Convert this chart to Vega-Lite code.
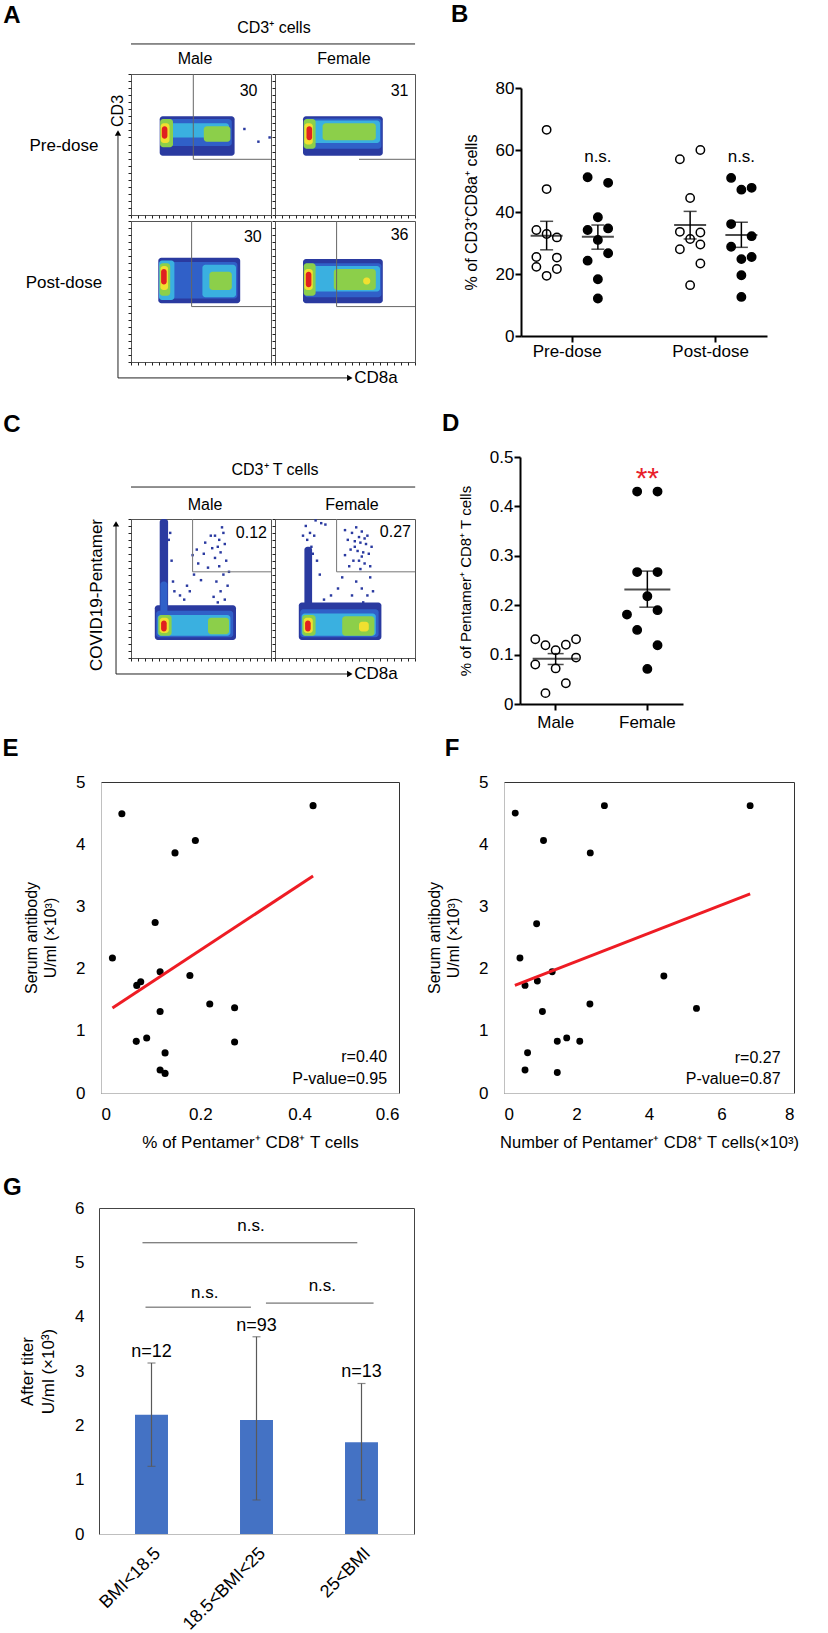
{
"$schema": "https://vega.github.io/schema/vega-lite/v6.json",
"background": "white",
"padding": {"left": 1, "top": 2, "right": 0, "bottom": 0},
"config": {
  "view": {"stroke": "#555"},
  "font": "Liberation Sans",
  "text": {"font": "Liberation Sans", "color": "black"},
  "axis": {"labelFont": "Liberation Sans", "titleFont": "Liberation Sans", "labelColor": "black", "titleColor": "black", "titleFontWeight": "normal", "grid": false},
  "title": {"font": "Liberation Sans", "fontSize": 24, "fontWeight": "bold", "anchor": "start", "frame": "group", "color": "black"}
},
"datasets": {
  "sp": [{"t": ""}],
  "fa": [
    {"k":"c","dose":"Pre-dose","sex":"Male","x1":20.5,"x2":74,"y1":42,"y2":70,"lv":1},
    {"k":"c","dose":"Pre-dose","sex":"Male","x1":21,"x2":72,"y1":49,"y2":68,"lv":2},
    {"k":"c","dose":"Pre-dose","sex":"Male","x1":22,"x2":70,"y1":55,"y2":65,"lv":3},
    {"k":"c","dose":"Pre-dose","sex":"Male","x1":52,"x2":71,"y1":52,"y2":63,"lv":4},
    {"k":"c","dose":"Pre-dose","sex":"Male","x1":20.8,"x2":30,"y1":48,"y2":68,"lv":4},
    {"k":"c","dose":"Pre-dose","sex":"Male","x1":21.2,"x2":27.5,"y1":51,"y2":65,"lv":5},
    {"k":"c","dose":"Pre-dose","sex":"Male","x1":22,"x2":26,"y1":54,"y2":63,"lv":6},
    {"k":"c","dose":"Pre-dose","sex":"Female","x1":20,"x2":77,"y1":42,"y2":70,"lv":1},
    {"k":"c","dose":"Pre-dose","sex":"Female","x1":21,"x2":76,"y1":47,"y2":68.5,"lv":2},
    {"k":"c","dose":"Pre-dose","sex":"Female","x1":22,"x2":75,"y1":51,"y2":67,"lv":3},
    {"k":"c","dose":"Pre-dose","sex":"Female","x1":34,"x2":72,"y1":53,"y2":65,"lv":4},
    {"k":"c","dose":"Pre-dose","sex":"Female","x1":20.5,"x2":29,"y1":47,"y2":68,"lv":4},
    {"k":"c","dose":"Pre-dose","sex":"Female","x1":21,"x2":27,"y1":50,"y2":65,"lv":5},
    {"k":"c","dose":"Pre-dose","sex":"Female","x1":22.5,"x2":26.5,"y1":53,"y2":63,"lv":6},
    {"k":"c","dose":"Post-dose","sex":"Male","x1":19.5,"x2":78,"y1":41.7,"y2":74,"lv":1},
    {"k":"c","dose":"Post-dose","sex":"Male","x1":20,"x2":76,"y1":45,"y2":71,"lv":2},
    {"k":"c","dose":"Post-dose","sex":"Male","x1":20,"x2":31,"y1":44,"y2":72,"lv":3},
    {"k":"c","dose":"Post-dose","sex":"Male","x1":51,"x2":75,"y1":46,"y2":69,"lv":3},
    {"k":"c","dose":"Post-dose","sex":"Male","x1":56,"x2":72,"y1":51,"y2":64,"lv":4},
    {"k":"c","dose":"Post-dose","sex":"Male","x1":20.5,"x2":28,"y1":47,"y2":70,"lv":4},
    {"k":"c","dose":"Post-dose","sex":"Male","x1":21,"x2":26.5,"y1":51,"y2":68,"lv":5},
    {"k":"c","dose":"Post-dose","sex":"Male","x1":21.5,"x2":25.5,"y1":55,"y2":66,"lv":6},
    {"k":"c","dose":"Post-dose","sex":"Female","x1":20,"x2":77,"y1":41.7,"y2":73,"lv":1},
    {"k":"c","dose":"Post-dose","sex":"Female","x1":21,"x2":76,"y1":46,"y2":70,"lv":2},
    {"k":"c","dose":"Post-dose","sex":"Female","x1":22,"x2":75,"y1":50,"y2":68,"lv":3},
    {"k":"c","dose":"Post-dose","sex":"Female","x1":42,"x2":72,"y1":51,"y2":66,"lv":4},
    {"k":"c","dose":"Post-dose","sex":"Female","x1":20.5,"x2":29,"y1":47,"y2":70,"lv":4},
    {"k":"c","dose":"Post-dose","sex":"Female","x1":21,"x2":27,"y1":51,"y2":66,"lv":5},
    {"k":"c","dose":"Post-dose","sex":"Female","x1":63,"x2":68,"y1":55,"y2":60,"lv":5},
    {"k":"c","dose":"Post-dose","sex":"Female","x1":22,"x2":26,"y1":53,"y2":64,"lv":6},
    {"k":"d","dose":"Pre-dose","sex":"Male","x":81,"y":61},
    {"k":"d","dose":"Pre-dose","sex":"Male","x":91,"y":52},
    {"k":"d","dose":"Pre-dose","sex":"Male","x":99,"y":55},
    {"k":"g","dose":"Pre-dose","sex":"Male","x1":44.5,"y1":39.5,"x2":44.5,"y2":100},
    {"k":"g","dose":"Pre-dose","sex":"Male","x1":44.5,"y1":39.5,"x2":100,"y2":39.5},
    {"k":"g","dose":"Pre-dose","sex":"Female","x1":60,"y1":39.5,"x2":100,"y2":39.5},
    {"k":"g","dose":"Post-dose","sex":"Male","x1":43.3,"y1":39.3,"x2":43.3,"y2":100},
    {"k":"g","dose":"Post-dose","sex":"Male","x1":43.3,"y1":39.3,"x2":100,"y2":39.3},
    {"k":"g","dose":"Post-dose","sex":"Female","x1":44,"y1":39.3,"x2":44,"y2":100},
    {"k":"g","dose":"Post-dose","sex":"Female","x1":44,"y1":39.3,"x2":100,"y2":39.3},
    {"k":"n","dose":"Pre-dose","sex":"Male","x":84,"y":88,"t":"30"},
    {"k":"n","dose":"Pre-dose","sex":"Female","x":89,"y":88,"t":"31"},
    {"k":"n","dose":"Post-dose","sex":"Male","x":87,"y":89,"t":"30"},
    {"k":"n","dose":"Post-dose","sex":"Female","x":89,"y":90,"t":"36"},
    {"k":"L","dose":"Pre-dose","sex":"Male","x":-85,"y":141.1,"t":"A"},
    {"k":"t16","dose":"Pre-dose","sex":"Male","x":102.1,"y":132.6,"t":"CD3⁺ cells"},
    {"k":"t16","dose":"Pre-dose","sex":"Male","x":45.7,"y":110.6,"t":"Male"},
    {"k":"t16","dose":"Pre-dose","sex":"Female","x":49.3,"y":110.6,"t":"Female"},
    {"k":"t17","dose":"Pre-dose","sex":"Male","x":-47.9,"y":48.9,"t":"Pre-dose"},
    {"k":"t17","dose":"Post-dose","sex":"Male","x":-47.9,"y":56,"t":"Post-dose"},
    {"k":"v16","dose":"Pre-dose","sex":"Male","x":-9.3,"y":73.8,"t":"CD3"},
    {"k":"r","dose":"Pre-dose","sex":"Male","x1":0,"x2":202.9,"y1":121.3,"y2":121.3},
    {"k":"r","dose":"Post-dose","sex":"Male","x1":-9.3,"x2":-9.3,"y1":-11.3,"y2":160.3},
    {"k":"r","dose":"Post-dose","sex":"Male","x1":-9.3,"x2":154.3,"y1":-11.3,"y2":-11.3},
    {"k":"au","dose":"Post-dose","sex":"Male","x":-9.3,"y":162.4},
    {"k":"ar","dose":"Post-dose","sex":"Male","x":156.3,"y":-11.3},
    {"k":"tl","dose":"Post-dose","sex":"Male","x":159.5,"y":-11.3,"t":"CD8a"}
  ],
  "fc": [
    {"k":"c","sex":"Male","x1":20.5,"x2":26.5,"y1":30,"y2":100,"lv":1},
    {"k":"c","sex":"Male","x1":17,"x2":75,"y1":13,"y2":38,"lv":1},
    {"k":"c","sex":"Male","x1":21,"x2":26,"y1":30,"y2":55,"lv":2},
    {"k":"c","sex":"Male","x1":18,"x2":73,"y1":15,"y2":34,"lv":2},
    {"k":"c","sex":"Male","x1":19,"x2":71,"y1":16,"y2":31,"lv":3},
    {"k":"c","sex":"Male","x1":19.5,"x2":29,"y1":16,"y2":31,"lv":4},
    {"k":"c","sex":"Male","x1":55,"x2":70,"y1":17,"y2":29,"lv":4},
    {"k":"c","sex":"Male","x1":20.5,"x2":27,"y1":18,"y2":29,"lv":5},
    {"k":"c","sex":"Male","x1":21.5,"x2":25.5,"y1":19,"y2":27,"lv":6},
    {"k":"c","sex":"Female","x1":21,"x2":26.5,"y1":30,"y2":80,"lv":1},
    {"k":"c","sex":"Female","x1":17,"x2":76,"y1":13,"y2":40,"lv":1},
    {"k":"c","sex":"Female","x1":18,"x2":74,"y1":15,"y2":35,"lv":2},
    {"k":"c","sex":"Female","x1":19,"x2":72,"y1":16,"y2":32,"lv":3},
    {"k":"c","sex":"Female","x1":19.5,"x2":29,"y1":16,"y2":31,"lv":4},
    {"k":"c","sex":"Female","x1":48,"x2":71,"y1":16,"y2":30,"lv":4},
    {"k":"c","sex":"Female","x1":20.5,"x2":27,"y1":18,"y2":29,"lv":5},
    {"k":"c","sex":"Female","x1":60,"x2":67,"y1":19,"y2":26,"lv":5},
    {"k":"c","sex":"Female","x1":21.5,"x2":25.5,"y1":19,"y2":27,"lv":6},
    {"k":"d","sex":"Male","x":60,"y":88},{"k":"d","sex":"Male","x":63,"y":85},{"k":"d","sex":"Male","x":66,"y":90},
    {"k":"d","sex":"Male","x":62,"y":80},{"k":"d","sex":"Male","x":67,"y":82},{"k":"d","sex":"Male","x":64,"y":76},
    {"k":"d","sex":"Male","x":60,"y":72},{"k":"d","sex":"Male","x":68,"y":70},{"k":"d","sex":"Male","x":63,"y":66},
    {"k":"d","sex":"Male","x":66,"y":60},{"k":"d","sex":"Male","x":61,"y":55},{"k":"d","sex":"Male","x":69,"y":52},
    {"k":"d","sex":"Male","x":64,"y":48},{"k":"d","sex":"Male","x":59,"y":44},{"k":"d","sex":"Male","x":67,"y":42},
    {"k":"d","sex":"Male","x":62,"y":40},{"k":"d","sex":"Male","x":35,"y":45},{"k":"d","sex":"Male","x":40,"y":52},
    {"k":"d","sex":"Male","x":45,"y":60},{"k":"d","sex":"Male","x":48,"y":68},{"k":"d","sex":"Male","x":52,"y":75},
    {"k":"d","sex":"Male","x":42,"y":48},{"k":"d","sex":"Male","x":38,"y":42},{"k":"d","sex":"Male","x":50,"y":56},
    {"k":"d","sex":"Male","x":55,"y":65},{"k":"d","sex":"Male","x":47,"y":78},{"k":"d","sex":"Male","x":53,"y":83},
    {"k":"d","sex":"Male","x":28,"y":90},{"k":"d","sex":"Male","x":29,"y":70},{"k":"d","sex":"Male","x":30,"y":55},
    {"k":"d","sex":"Male","x":31,"y":48},{"k":"d","sex":"Male","x":57,"y":88},{"k":"d","sex":"Male","x":58,"y":79},
    {"k":"d","sex":"Male","x":65,"y":94},{"k":"d","sex":"Male","x":70,"y":62},{"k":"d","sex":"Male","x":44,"y":74},
    {"k":"d","sex":"Male","x":23,"y":99},{"k":"d","sex":"Male","x":25,"y":96},{"k":"d","sex":"Male","x":27,"y":85},
    {"k":"d","sex":"Male","x":22,"y":78},
    {"k":"d","sex":"Female","x":50,"y":92},{"k":"d","sex":"Female","x":55,"y":90},{"k":"d","sex":"Female","x":58,"y":94},
    {"k":"d","sex":"Female","x":62,"y":91},{"k":"d","sex":"Female","x":66,"y":88},{"k":"d","sex":"Female","x":52,"y":85},
    {"k":"d","sex":"Female","x":57,"y":84},{"k":"d","sex":"Female","x":61,"y":83},{"k":"d","sex":"Female","x":65,"y":82},
    {"k":"d","sex":"Female","x":54,"y":78},{"k":"d","sex":"Female","x":59,"y":77},{"k":"d","sex":"Female","x":63,"y":76},
    {"k":"d","sex":"Female","x":67,"y":75},{"k":"d","sex":"Female","x":56,"y":70},{"k":"d","sex":"Female","x":60,"y":70},
    {"k":"d","sex":"Female","x":64,"y":68},{"k":"d","sex":"Female","x":50,"y":74},{"k":"d","sex":"Female","x":69,"y":80},
    {"k":"d","sex":"Female","x":53,"y":66},{"k":"d","sex":"Female","x":61,"y":64},{"k":"d","sex":"Female","x":58,"y":55},
    {"k":"d","sex":"Female","x":62,"y":50},{"k":"d","sex":"Female","x":66,"y":45},{"k":"d","sex":"Female","x":55,"y":45},
    {"k":"d","sex":"Female","x":63,"y":40},{"k":"d","sex":"Female","x":68,"y":58},{"k":"d","sex":"Female","x":45,"y":50},
    {"k":"d","sex":"Female","x":40,"y":45},{"k":"d","sex":"Female","x":35,"y":42},{"k":"d","sex":"Female","x":48,"y":58},
    {"k":"d","sex":"Female","x":70,"y":48},{"k":"d","sex":"Female","x":22,"y":95},{"k":"d","sex":"Female","x":25,"y":90},
    {"k":"d","sex":"Female","x":23,"y":85},{"k":"d","sex":"Female","x":26,"y":80},{"k":"d","sex":"Female","x":30,"y":70},
    {"k":"d","sex":"Female","x":32,"y":60},{"k":"d","sex":"Female","x":28,"y":88},{"k":"d","sex":"Female","x":36,"y":96},
    {"k":"d","sex":"Female","x":29,"y":99},{"k":"d","sex":"Female","x":33,"y":97},{"k":"d","sex":"Female","x":60,"y":87},
    {"k":"d","sex":"Female","x":64,"y":86},{"k":"d","sex":"Female","x":57,"y":80},{"k":"d","sex":"Female","x":62,"y":73},
    {"k":"d","sex":"Female","x":68,"y":66},{"k":"d","sex":"Female","x":20,"y":88},{"k":"d","sex":"Female","x":27,"y":75},
    {"k":"g","sex":"Male","x1":44,"y1":62,"x2":44,"y2":100},
    {"k":"g","sex":"Male","x1":44,"y1":62,"x2":100,"y2":62},
    {"k":"g","sex":"Female","x1":44,"y1":62,"x2":44,"y2":100},
    {"k":"g","sex":"Female","x1":44,"y1":62,"x2":100,"y2":62},
    {"k":"n","sex":"Male","x":86,"y":90,"t":"0.12"},
    {"k":"n","sex":"Female","x":86,"y":91,"t":"0.27"},
    {"k":"L","sex":"Male","x":-85,"y":167.6,"t":"C"},
    {"k":"t16","sex":"Male","x":102.9,"y":135.3,"t":"CD3⁺ T cells"},
    {"k":"t16","sex":"Male","x":52.9,"y":110.1,"t":"Male"},
    {"k":"t16","sex":"Female","x":55,"y":110.1,"t":"Female"},
    {"k":"v17","sex":"Male","x":-24.3,"y":45.3,"t":"COVID19-Pentamer"},
    {"k":"r","sex":"Male","x1":0,"x2":203,"y1":123,"y2":123},
    {"k":"r","sex":"Male","x1":-10.7,"x2":-10.7,"y1":-11.5,"y2":95},
    {"k":"r","sex":"Male","x1":-10.7,"x2":154.3,"y1":-11.5,"y2":-11.5},
    {"k":"au","sex":"Male","x":-10.7,"y":96.5},
    {"k":"ar","sex":"Male","x":156.3,"y":-11.5},
    {"k":"tl","sex":"Male","x":159.5,"y":-11.5,"t":"CD8a"}
  ],
  "bpts": [
    {"sex":"Male","s":"PM2","v":66.5},{"sex":"Male","s":"PM2","v":47.4},{"sex":"Male","s":"PM1","v":34.2},
    {"sex":"Male","s":"PM2","v":32.9},{"sex":"Male","s":"PM3","v":31.8},{"sex":"Male","s":"PM1","v":25.5},
    {"sex":"Male","s":"PM3","v":25.3},{"sex":"Male","s":"PM1","v":22.3},{"sex":"Male","s":"PM3","v":21.6},
    {"sex":"Male","s":"PM2","v":19.4},
    {"sex":"Female","s":"PF1","v":51.2},{"sex":"Female","s":"PF3","v":49.4},{"sex":"Female","s":"PF2","v":38.3},
    {"sex":"Female","s":"PF1","v":34.2},{"sex":"Female","s":"PF3","v":34.7},{"sex":"Female","s":"PF2","v":31.0},
    {"sex":"Female","s":"PF3","v":26.7},{"sex":"Female","s":"PF1","v":24.3},{"sex":"Female","s":"PF2","v":18.3},
    {"sex":"Female","s":"PF2","v":12.1},
    {"sex":"Male","s":"QM1","v":57.0},{"sex":"Male","s":"QM3","v":60.0},{"sex":"Male","s":"QM2","v":44.5},
    {"sex":"Male","s":"QM1","v":33.6},{"sex":"Male","s":"QM3","v":33.4},{"sex":"Male","s":"QM2","v":31.3},
    {"sex":"Male","s":"QM1","v":28.0},{"sex":"Male","s":"QM3","v":29.5},{"sex":"Male","s":"QM3","v":23.4},
    {"sex":"Male","s":"QM2","v":16.4},
    {"sex":"Female","s":"QF1","v":51.0},{"sex":"Female","s":"QF2","v":47.2},{"sex":"Female","s":"QF3","v":47.8},
    {"sex":"Female","s":"QF1","v":36.1},{"sex":"Female","s":"QF3","v":32.2},{"sex":"Female","s":"QF1","v":28.8},
    {"sex":"Female","s":"QF2","v":24.8},{"sex":"Female","s":"QF3","v":25.5},{"sex":"Female","s":"QF2","v":19.6},
    {"sex":"Female","s":"QF2","v":12.6}
  ],
  "bstat": [
    {"s":"PM2","mean":32.3,"lo":27.8,"hi":37.0},
    {"s":"PF2","mean":32.0,"lo":28.0,"hi":35.8},
    {"s":"QM2","mean":35.8,"lo":31.3,"hi":40.2},
    {"s":"QF2","mean":32.6,"lo":28.6,"hi":36.7}
  ],
  "dpts": [
    {"sex":"Male","s":"Mc1","v":0.131},{"sex":"Male","s":"Mc5","v":0.131},{"sex":"Male","s":"Mc2","v":0.119},
    {"sex":"Male","s":"Mc4","v":0.12},{"sex":"Male","s":"Mc3","v":0.109},{"sex":"Male","s":"Mc1","v":0.080},
    {"sex":"Male","s":"Mc3","v":0.072},{"sex":"Male","s":"Mc5","v":0.094},{"sex":"Male","s":"Mc4","v":0.042},
    {"sex":"Male","s":"Mc2","v":0.022},
    {"sex":"Female","s":"Fc2","v":0.43},{"sex":"Female","s":"Fc4","v":0.43},{"sex":"Female","s":"Fc2","v":0.267},
    {"sex":"Female","s":"Fc4","v":0.267},{"sex":"Female","s":"Fc3","v":0.218},{"sex":"Female","s":"Fc4","v":0.19},
    {"sex":"Female","s":"Fc1","v":0.181},{"sex":"Female","s":"Fc2","v":0.15},{"sex":"Female","s":"Fc4","v":0.119},
    {"sex":"Female","s":"Fc3","v":0.071}
  ],
  "dstat": [
    {"s":"Mc3","mean":0.0915,"lo":0.080,"hi":0.102},
    {"s":"Fc3","mean":0.232,"lo":0.196,"hi":0.269}
  ],
  "epts": [
    {"x":0.042,"y":4.49},{"x":0.427,"y":4.62},{"x":0.149,"y":3.86},{"x":0.19,"y":4.06},{"x":0.109,"y":2.74},
    {"x":0.023,"y":2.17},{"x":0.119,"y":1.95},{"x":0.179,"y":1.89},{"x":0.072,"y":1.73},{"x":0.08,"y":1.79},
    {"x":0.219,"y":1.43},{"x":0.269,"y":1.37},{"x":0.119,"y":1.31},{"x":0.071,"y":0.83},{"x":0.092,"y":0.885},
    {"x":0.269,"y":0.82},{"x":0.129,"y":0.645},{"x":0.119,"y":0.37},{"x":0.129,"y":0.315}
  ],
  "fpts": [
    {"x":0.31,"y":4.5},{"x":2.77,"y":4.62},{"x":6.79,"y":4.62},{"x":1.09,"y":4.06},{"x":2.38,"y":3.86},
    {"x":0.9,"y":2.72},{"x":0.44,"y":2.17},{"x":1.33,"y":1.95},{"x":4.41,"y":1.88},{"x":0.92,"y":1.8},
    {"x":0.58,"y":1.73},{"x":2.37,"y":1.43},{"x":5.31,"y":1.36},{"x":1.06,"y":1.31},{"x":1.73,"y":0.886},
    {"x":1.47,"y":0.833},{"x":2.09,"y":0.833},{"x":0.65,"y":0.647},{"x":0.58,"y":0.371},{"x":1.47,"y":0.329}
  ],
  "gbar": [
    {"g":"BMI<18.5","mean":2.196,"lo":1.245,"hi":3.147,"n":"n=12"},
    {"g":"18.5<BMI<25","mean":2.1,"lo":0.626,"hi":3.63,"n":"n=93"},
    {"g":"25<BMI","mean":1.687,"lo":0.626,"hi":2.77,"n":"n=13"}
  ]
},
"spacing": 24,
"vconcat": [
  {"spacing": 0, "hconcat": [
    {"width": 1, "height": 1, "data": {"name": "sp"}, "mark": {"type": "text", "fontSize": 0}, "encoding": {"text": {"field": "t"}}},
    {"spacing": 34, "hconcat": [
      {"spacing": 0, "vconcat": [
        {"width": 1, "height": 1, "data": {"name": "sp"}, "mark": {"type": "text", "fontSize": 0}, "encoding": {"text": {"field": "t"}}},
        {"data": {"name": "fa"},
         "facet": {"row": {"field": "dose", "type": "nominal", "sort": ["Pre-dose","Post-dose"], "header": null},
                   "column": {"field": "sex", "type": "nominal", "sort": ["Male","Female"], "header": null}},
         "spacing": {"row": 6, "column": 4},
         "bounds": "flush",
         "resolve": {"axis": {"x": "independent", "y": "independent"}},
         "spec": {"width": 140, "height": 141, "layer": [
           {"transform": [{"filter": "datum.k=='c'"}], "mark": {"type": "rect", "cornerRadius": 3},
            "encoding": {"x": {"field": "x1", "type": "quantitative", "scale": {"domain": [0,100], "nice": false, "zero": false}, "axis": {"title": null, "labels": false, "domain": false, "tickSize": 3, "tickCount": 15, "tickColor": "#222"}},
             "x2": {"field": "x2"},
             "y": {"field": "y1", "type": "quantitative", "scale": {"domain": [0,100], "nice": false, "zero": false}, "axis": {"title": null, "labels": false, "domain": false, "tickSize": 3, "tickCount": 15, "tickColor": "#222"}},
             "y2": {"field": "y2"},
             "color": {"field": "lv", "type": "ordinal", "scale": {"domain": [1,2,3,4,5,6], "range": ["#2a3aa0","#3060c8","#3ab0e0","#8ccf4a","#f0e030","#e02020"]}, "legend": null}}},
           {"transform": [{"filter": "datum.k=='d'"}], "mark": {"type": "square", "size": 6, "color": "#2a3aa0", "opacity": 1}, "encoding": {"x": {"field": "x", "type": "quantitative"}, "y": {"field": "y", "type": "quantitative"}}},
           {"transform": [{"filter": "datum.k=='g'"}], "mark": {"type": "rule", "color": "#666", "strokeWidth": 1}, "encoding": {"x": {"field": "x1", "type": "quantitative"}, "x2": {"field": "x2"}, "y": {"field": "y1", "type": "quantitative"}, "y2": {"field": "y2"}}},
           {"transform": [{"filter": "datum.k=='r'"}], "mark": {"type": "rule", "color": "#222", "strokeWidth": 1}, "encoding": {"x": {"field": "x1", "type": "quantitative"}, "x2": {"field": "x2"}, "y": {"field": "y1", "type": "quantitative"}, "y2": {"field": "y2"}}},
           {"transform": [{"filter": "datum.k=='n' || datum.k=='t16'"}], "mark": {"type": "text", "fontSize": 16}, "encoding": {"x": {"field": "x", "type": "quantitative"}, "y": {"field": "y", "type": "quantitative"}, "text": {"field": "t"}}},
           {"transform": [{"filter": "datum.k=='t17'"}], "mark": {"type": "text", "fontSize": 17}, "encoding": {"x": {"field": "x", "type": "quantitative"}, "y": {"field": "y", "type": "quantitative"}, "text": {"field": "t"}}},
           {"transform": [{"filter": "datum.k=='tl'"}], "mark": {"type": "text", "fontSize": 17, "align": "left"}, "encoding": {"x": {"field": "x", "type": "quantitative"}, "y": {"field": "y", "type": "quantitative"}, "text": {"field": "t"}}},
           {"transform": [{"filter": "datum.k=='v16'"}], "mark": {"type": "text", "fontSize": 16, "angle": 270}, "encoding": {"x": {"field": "x", "type": "quantitative"}, "y": {"field": "y", "type": "quantitative"}, "text": {"field": "t"}}},
           {"transform": [{"filter": "datum.k=='L'"}], "mark": {"type": "text", "fontSize": 24, "fontWeight": "bold"}, "encoding": {"x": {"field": "x", "type": "quantitative"}, "y": {"field": "y", "type": "quantitative"}, "text": {"field": "t"}}},
           {"transform": [{"filter": "datum.k=='au'"}], "mark": {"type": "point", "shape": "triangle-up", "size": 40, "filled": true, "color": "black", "opacity": 1}, "encoding": {"x": {"field": "x", "type": "quantitative"}, "y": {"field": "y", "type": "quantitative"}}},
           {"transform": [{"filter": "datum.k=='ar'"}], "mark": {"type": "point", "shape": "triangle-right", "size": 40, "filled": true, "color": "black", "opacity": 1}, "encoding": {"x": {"field": "x", "type": "quantitative"}, "y": {"field": "y", "type": "quantitative"}}}
         ]}
        }
      ]},
      {"spacing": 0, "vconcat": [
        {"width": 1, "height": 1, "data": {"name": "sp"}, "mark": {"type": "text", "fontSize": 0}, "encoding": {"text": {"field": "t"}}},
        {"width": 246, "height": 248, "view": {"stroke": null},
         "title": {"text": "B", "dx": -70, "offset": 52},
         "layer": [
          {"data": {"name": "bpts"}, "mark": {"type": "point", "shape": "circle", "size": 70, "filled": true, "stroke": "black", "strokeWidth": 1.5, "opacity": 1},
           "encoding": {
             "x": {"field": "s", "type": "nominal", "scale": {"domain": ["PM1","PM2","PM3","Pg1","Pg2","PF1","PF2","PF3","h1","h2","h3","h4","h5","h6","QM1","QM2","QM3","Qg1","Qg2","QF1","QF2","QF3"], "paddingInner": 0, "paddingOuter": 2.1},
               "axis": {"title": null, "values": ["Pg1","Qg1"], "bandPosition": 1, "labelExpr": "datum.value == 'Pg1' ? 'Pre-dose' : 'Post-dose'", "labelAngle": 0, "labelFontSize": 17, "labelPadding": 1, "domainColor": "black", "domainWidth": 2, "tickColor": "black", "tickWidth": 2, "tickSize": 6}},
             "y": {"field": "v", "type": "quantitative", "scale": {"domain": [0,80]}, "axis": {"title": "% of CD3⁺CD8a⁺ cells", "titleFontSize": 16, "titlePadding": 16, "values": [0,20,40,60,80], "labelFontSize": 17, "labelPadding": 1, "domainColor": "black", "domainWidth": 2, "tickColor": "black", "tickWidth": 2, "tickSize": 6}},
             "fill": {"field": "sex", "type": "nominal", "scale": {"domain": ["Male","Female"], "range": ["white","black"]}, "legend": null}}},
          {"data": {"name": "bstat"}, "mark": {"type": "tick", "size": 32, "thickness": 2, "color": "black"},
           "encoding": {"x": {"field": "s", "type": "nominal"}, "y": {"field": "mean", "type": "quantitative"}}},
          {"data": {"name": "bstat"}, "mark": {"type": "rule", "strokeWidth": 1.5, "color": "black"},
           "encoding": {"x": {"field": "s", "type": "nominal"}, "y": {"field": "lo", "type": "quantitative"}, "y2": {"field": "hi"}}},
          {"data": {"name": "bstat"}, "mark": {"type": "tick", "size": 13, "thickness": 1.5, "color": "black"},
           "encoding": {"x": {"field": "s", "type": "nominal"}, "y": {"field": "lo", "type": "quantitative"}}},
          {"data": {"name": "bstat"}, "mark": {"type": "tick", "size": 13, "thickness": 1.5, "color": "black"},
           "encoding": {"x": {"field": "s", "type": "nominal"}, "y": {"field": "hi", "type": "quantitative"}}},
          {"data": {"values": [{"s": "PF2", "y": 57.7, "t": "n.s."}, {"s": "QF2", "y": 57.7, "t": "n.s."}]}, "mark": {"type": "text", "fontSize": 17},
           "encoding": {"x": {"field": "s", "type": "nominal"}, "y": {"field": "y", "type": "quantitative"}, "text": {"field": "t"}}}
         ]}
      ]}
    ]}
  ]},
  {"spacing": 6, "vconcat": [
    {"spacing": 0, "hconcat": [
      {"width": 1, "height": 1, "data": {"name": "sp"}, "mark": {"type": "text", "fontSize": 0}, "encoding": {"text": {"field": "t"}}},
      {"spacing": 25, "hconcat": [
        {"spacing": 0, "vconcat": [
          {"width": 1, "height": 1, "data": {"name": "sp"}, "mark": {"type": "text", "fontSize": 0}, "encoding": {"text": {"field": "t"}}},
          {"data": {"name": "fc"},
           "facet": {"column": {"field": "sex", "type": "nominal", "sort": ["Male","Female"], "header": null}},
           "spacing": {"column": 4},
           "bounds": "flush",
           "resolve": {"axis": {"x": "independent", "y": "independent"}},
           "spec": {"width": 140, "height": 139, "layer": [
             {"transform": [{"filter": "datum.k=='c'"}], "mark": {"type": "rect", "cornerRadius": 3},
              "encoding": {"x": {"field": "x1", "type": "quantitative", "scale": {"domain": [0,100], "nice": false, "zero": false}, "axis": {"title": null, "labels": false, "domain": false, "tickSize": 3, "tickCount": 15, "tickColor": "#222"}},
               "x2": {"field": "x2"},
               "y": {"field": "y1", "type": "quantitative", "scale": {"domain": [0,100], "nice": false, "zero": false}, "axis": {"title": null, "labels": false, "domain": false, "tickSize": 3, "tickCount": 15, "tickColor": "#222"}},
               "y2": {"field": "y2"},
               "color": {"field": "lv", "type": "ordinal", "scale": {"domain": [1,2,3,4,5,6], "range": ["#2a3aa0","#3060c8","#3ab0e0","#8ccf4a","#f0e030","#e02020"]}, "legend": null}}},
             {"transform": [{"filter": "datum.k=='d'"}], "mark": {"type": "square", "size": 6, "color": "#2a3aa0", "opacity": 1}, "encoding": {"x": {"field": "x", "type": "quantitative"}, "y": {"field": "y", "type": "quantitative"}}},
             {"transform": [{"filter": "datum.k=='g'"}], "mark": {"type": "rule", "color": "#777", "strokeWidth": 1}, "encoding": {"x": {"field": "x1", "type": "quantitative"}, "x2": {"field": "x2"}, "y": {"field": "y1", "type": "quantitative"}, "y2": {"field": "y2"}}},
             {"transform": [{"filter": "datum.k=='r'"}], "mark": {"type": "rule", "color": "#222", "strokeWidth": 1}, "encoding": {"x": {"field": "x1", "type": "quantitative"}, "x2": {"field": "x2"}, "y": {"field": "y1", "type": "quantitative"}, "y2": {"field": "y2"}}},
             {"transform": [{"filter": "datum.k=='n' || datum.k=='t16'"}], "mark": {"type": "text", "fontSize": 16}, "encoding": {"x": {"field": "x", "type": "quantitative"}, "y": {"field": "y", "type": "quantitative"}, "text": {"field": "t"}}},
             {"transform": [{"filter": "datum.k=='tl'"}], "mark": {"type": "text", "fontSize": 17, "align": "left"}, "encoding": {"x": {"field": "x", "type": "quantitative"}, "y": {"field": "y", "type": "quantitative"}, "text": {"field": "t"}}},
             {"transform": [{"filter": "datum.k=='v17'"}], "mark": {"type": "text", "fontSize": 17, "angle": 270}, "encoding": {"x": {"field": "x", "type": "quantitative"}, "y": {"field": "y", "type": "quantitative"}, "text": {"field": "t"}}},
             {"transform": [{"filter": "datum.k=='L'"}], "mark": {"type": "text", "fontSize": 24, "fontWeight": "bold"}, "encoding": {"x": {"field": "x", "type": "quantitative"}, "y": {"field": "y", "type": "quantitative"}, "text": {"field": "t"}}},
             {"transform": [{"filter": "datum.k=='au'"}], "mark": {"type": "point", "shape": "triangle-up", "size": 40, "filled": true, "color": "black", "opacity": 1}, "encoding": {"x": {"field": "x", "type": "quantitative"}, "y": {"field": "y", "type": "quantitative"}}},
             {"transform": [{"filter": "datum.k=='ar'"}], "mark": {"type": "point", "shape": "triangle-right", "size": 40, "filled": true, "color": "black", "opacity": 1}, "encoding": {"x": {"field": "x", "type": "quantitative"}, "y": {"field": "y", "type": "quantitative"}}}
           ]}
          }
        ]},
        {"spacing": 0, "vconcat": [
          {"width": 1, "height": 1, "data": {"name": "sp"}, "mark": {"type": "text", "fontSize": 0}, "encoding": {"text": {"field": "t"}}},
          {"width": 163, "height": 247, "view": {"stroke": null},
           "title": {"text": "D", "dx": -78, "offset": 12},
           "layer": [
            {"data": {"name": "dpts"}, "mark": {"type": "point", "shape": "circle", "size": 70, "filled": true, "stroke": "black", "strokeWidth": 1.5, "opacity": 1},
             "encoding": {
               "x": {"field": "s", "type": "nominal", "scale": {"domain": ["Mc1","Mc2","Mc3","Mc4","Mc5","g1","g2","g3","g4","Fc1","Fc2","Fc3","Fc4","Fc5"], "paddingInner": 0, "paddingOuter": 3.33},
                 "axis": {"title": null, "values": ["Mc3","Fc3"], "labelExpr": "datum.value == 'Mc3' ? 'Male' : 'Female'", "labelAngle": 0, "labelFontSize": 17, "labelPadding": 4, "domainColor": "black", "domainWidth": 2, "tickColor": "black", "tickWidth": 2, "tickSize": 6}},
               "y": {"field": "v", "type": "quantitative", "scale": {"domain": [0,0.5]}, "axis": {"title": "% of Pentamer⁺ CD8⁺ T cells", "titleFontSize": 15, "titlePadding": 16, "values": [0,0.1,0.2,0.3,0.4,0.5], "format": "~g", "labelFontSize": 17, "labelPadding": 1, "domainColor": "black", "domainWidth": 2, "tickColor": "black", "tickWidth": 2, "tickSize": 6}},
               "fill": {"field": "sex", "type": "nominal", "scale": {"domain": ["Male","Female"], "range": ["white","black"]}, "legend": null}}},
            {"data": {"name": "dstat"}, "mark": {"type": "tick", "size": 46, "thickness": 2, "color": "black"},
             "encoding": {"x": {"field": "s", "type": "nominal"}, "y": {"field": "mean", "type": "quantitative"}}},
            {"data": {"name": "dstat"}, "mark": {"type": "rule", "strokeWidth": 1.5, "color": "black"},
             "encoding": {"x": {"field": "s", "type": "nominal"}, "y": {"field": "lo", "type": "quantitative"}, "y2": {"field": "hi"}}},
            {"data": {"name": "dstat"}, "mark": {"type": "tick", "size": 16, "thickness": 1.5, "color": "black"},
             "encoding": {"x": {"field": "s", "type": "nominal"}, "y": {"field": "lo", "type": "quantitative"}}},
            {"data": {"name": "dstat"}, "mark": {"type": "tick", "size": 16, "thickness": 1.5, "color": "black"},
             "encoding": {"x": {"field": "s", "type": "nominal"}, "y": {"field": "hi", "type": "quantitative"}}},
            {"data": {"values": [{"s": "Fc3", "y": 0.476, "t": "**"}]}, "mark": {"type": "text", "fontSize": 30, "color": "#e8202a", "dy": 10},
             "encoding": {"x": {"field": "s", "type": "nominal"}, "y": {"field": "y", "type": "quantitative"}, "text": {"field": "t"}}}
           ]}
        ]}
      ]}
    ]},
    {"spacing": 24, "vconcat": [
      {"spacing": 0, "hconcat": [
        {"width": 1, "height": 1, "data": {"name": "sp"}, "mark": {"type": "text", "fontSize": 0}, "encoding": {"text": {"field": "t"}}},
        {"spacing": 26, "hconcat": [
          {"width": 298, "height": 311, "view": {"stroke": "#333"}, "layer": [
            {"data": {"name": "epts"}, "mark": {"type": "circle", "size": 50, "color": "black", "opacity": 1},
             "encoding": {
               "x": {"field": "x", "type": "quantitative", "scale": {"domain": [0,0.6], "nice": false}, "axis": {"title": "% of Pentamer⁺ CD8⁺ T cells", "titleFontSize": 17, "titlePadding": 12, "values": [0,0.2,0.4,0.6], "format": "~g", "labelFontSize": 17, "labelPadding": 13, "ticks": false, "domainColor": "#c0c0c0"}},
               "y": {"field": "y", "type": "quantitative", "scale": {"domain": [0,5], "nice": false}, "axis": {"title": ["Serum antibody","U/ml (×10³)"], "titleFontSize": 16, "titleLineHeight": 19, "titlePadding": 17, "values": [0,1,2,3,4,5], "format": "d", "labelFontSize": 17, "labelPadding": 16, "ticks": false, "domainColor": "#c0c0c0"}}}},
            {"data": {"values": [{"x": 0.023, "y": 1.365}, {"x": 0.427, "y": 3.49}]}, "mark": {"type": "line", "color": "#ee1c24", "strokeWidth": 3},
             "encoding": {"x": {"field": "x", "type": "quantitative"}, "y": {"field": "y", "type": "quantitative"}}},
            {"data": {"values": [{"x": 0.576, "y": 0.58, "t": "r=0.40"}, {"x": 0.576, "y": 0.224, "t": "P-value=0.95"}]}, "mark": {"type": "text", "fontSize": 16, "align": "right"},
             "encoding": {"x": {"field": "x", "type": "quantitative"}, "y": {"field": "y", "type": "quantitative"}, "text": {"field": "t"}}},
            {"data": {"values": [{"x": -0.182, "y": 5.528, "t": "E"}]}, "mark": {"type": "text", "fontSize": 24, "fontWeight": "bold"},
             "encoding": {"x": {"field": "x", "type": "quantitative"}, "y": {"field": "y", "type": "quantitative"}, "text": {"field": "t"}}}
          ]},
          {"width": 290, "height": 311, "view": {"stroke": "#333"}, "layer": [
            {"data": {"name": "fpts"}, "mark": {"type": "circle", "size": 48, "color": "black", "opacity": 1},
             "encoding": {
               "x": {"field": "x", "type": "quantitative", "scale": {"domain": [0,8], "nice": false}, "axis": {"title": "Number of Pentamer⁺ CD8⁺ T cells(×10³)", "titleFontSize": 16.5, "titlePadding": 12, "values": [0,2,4,6,8], "format": "d", "labelFontSize": 17, "labelPadding": 13, "ticks": false, "domainColor": "#c0c0c0"}},
               "y": {"field": "y", "type": "quantitative", "scale": {"domain": [0,5], "nice": false}, "axis": {"title": ["Serum antibody","U/ml (×10³)"], "titleFontSize": 16, "titleLineHeight": 19, "titlePadding": 17, "values": [0,1,2,3,4,5], "format": "d", "labelFontSize": 17, "labelPadding": 16, "ticks": false, "domainColor": "#c0c0c0"}}}},
            {"data": {"values": [{"x": 0.3, "y": 1.73}, {"x": 6.79, "y": 3.2}]}, "mark": {"type": "line", "color": "#ee1c24", "strokeWidth": 3},
             "encoding": {"x": {"field": "x", "type": "quantitative"}, "y": {"field": "y", "type": "quantitative"}}},
            {"data": {"values": [{"x": 7.63, "y": 0.57, "t": "r=0.27"}, {"x": 7.63, "y": 0.22, "t": "P-value=0.87"}]}, "mark": {"type": "text", "fontSize": 16, "align": "right"},
             "encoding": {"x": {"field": "x", "type": "quantitative"}, "y": {"field": "y", "type": "quantitative"}, "text": {"field": "t"}}},
            {"data": {"values": [{"x": -1.433, "y": 5.528, "t": "F"}]}, "mark": {"type": "text", "fontSize": 24, "fontWeight": "bold"},
             "encoding": {"x": {"field": "x", "type": "quantitative"}, "y": {"field": "y", "type": "quantitative"}, "text": {"field": "t"}}}
          ]}
        ]}
      ]},
      {"spacing": 0, "hconcat": [
        {"width": 1, "height": 1, "data": {"name": "sp"}, "mark": {"type": "text", "fontSize": 0}, "encoding": {"text": {"field": "t"}}},
        {"width": 315, "height": 326, "view": {"stroke": "#444"},
         "title": {"text": "G", "dx": -96, "offset": -1},
         "resolve": {"scale": {"x": "independent"}, "axis": {"x": "independent"}},
         "layer": [
          {"data": {"name": "gbar"},
           "encoding": {"x": {"field": "g", "type": "nominal", "sort": null, "scale": {"domain": ["BMI<18.5","18.5<BMI<25","25<BMI"], "paddingInner": 0.686, "paddingOuter": 0.343}, "axis": {"title": null, "labelAngle": -45, "labelFontSize": 18, "labelPadding": 10, "ticks": false, "domainColor": "#bfbfbf"}}},
           "layer": [
            {"mark": {"type": "bar", "color": "#4472c4"}, "encoding": {"y": {"field": "mean", "type": "quantitative", "scale": {"domain": [0,6], "nice": false}, "axis": {"title": ["After titer","U/ml (×10³)"], "titleFontSize": 17, "titleLineHeight": 21, "titlePadding": 17, "values": [0,1,2,3,4,5,6], "format": "d", "labelFontSize": 17, "labelPadding": 15, "ticks": false, "domain": false}}}},
            {"mark": {"type": "rule", "color": "#595959", "strokeWidth": 1.2}, "encoding": {"y": {"field": "lo", "type": "quantitative"}, "y2": {"field": "hi"}}},
            {"mark": {"type": "tick", "color": "#595959", "size": 8, "thickness": 1.2}, "encoding": {"y": {"field": "lo", "type": "quantitative"}}},
            {"mark": {"type": "tick", "color": "#595959", "size": 8, "thickness": 1.2}, "encoding": {"y": {"field": "hi", "type": "quantitative"}}},
            {"mark": {"type": "text", "fontSize": 18, "baseline": "bottom", "dy": -2}, "encoding": {"y": {"field": "hi", "type": "quantitative"}, "text": {"field": "n"}}}
           ]},
          {"layer": [
            {"data": {"values": [{"a": -0.086, "b": 1.96, "y": 5.36}, {"a": -0.057, "b": 0.947, "y": 4.175}, {"a": 1.09, "b": 2.115, "y": 4.25}]},
             "mark": {"type": "rule", "color": "#555", "strokeWidth": 1},
             "encoding": {"x": {"field": "a", "type": "quantitative", "scale": {"domain": [-0.5,2.5], "nice": false, "zero": false}, "axis": null}, "x2": {"field": "b"}, "y": {"field": "y", "type": "quantitative"}}},
            {"data": {"values": [{"a": 0.947, "y": 5.67, "t": "n.s."}, {"a": 0.507, "y": 4.44, "t": "n.s."}, {"a": 1.627, "y": 4.57, "t": "n.s."}]},
             "mark": {"type": "text", "fontSize": 17},
             "encoding": {"x": {"field": "a", "type": "quantitative"}, "y": {"field": "y", "type": "quantitative"}, "text": {"field": "t"}}}
          ]}
         ]}
      ]}
    ]}
  ]}
]
}
